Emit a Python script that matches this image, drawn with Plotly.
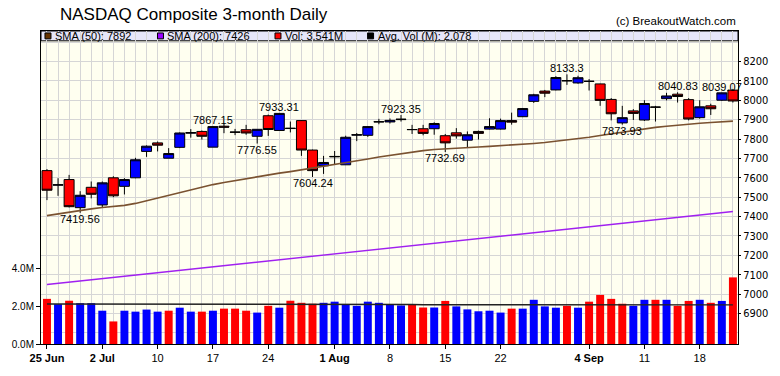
import plotly.graph_objects as go

# ---------------- data ----------------
dates = ["2018-06-25","2018-06-26","2018-06-27","2018-06-28","2018-06-29",
         "2018-07-02","2018-07-03","2018-07-05","2018-07-06","2018-07-09",
         "2018-07-10","2018-07-11","2018-07-12","2018-07-13","2018-07-16",
         "2018-07-17","2018-07-18","2018-07-19","2018-07-20","2018-07-23",
         "2018-07-24","2018-07-25","2018-07-26","2018-07-27","2018-07-30",
         "2018-07-31","2018-08-01","2018-08-02","2018-08-03","2018-08-06",
         "2018-08-07","2018-08-08","2018-08-09","2018-08-10","2018-08-13",
         "2018-08-14","2018-08-15","2018-08-16","2018-08-17","2018-08-20",
         "2018-08-21","2018-08-22","2018-08-23","2018-08-24","2018-08-27",
         "2018-08-28","2018-08-29","2018-08-30","2018-08-31","2018-09-04",
         "2018-09-05","2018-09-06","2018-09-07","2018-09-10","2018-09-11",
         "2018-09-12","2018-09-13","2018-09-14","2018-09-17","2018-09-18",
         "2018-09-19","2018-09-20","2018-09-21"]

opens  = [7637,7562,7591,7446,7551,7460,7600,7556,7600,7736,
          7780,7701,7757,7830,7839,7758,7866,7836,7848,7814,
          7920,7844,7856,7895,7743,7662,7708,7667,7820,7819,
          7888,7888,7900,7848,7853,7853,7817,7832,7794,7839,
          7851,7851,7895,7915,7994,8047,8053,8101,8089,8098,
          8084,8004,7883,7945,7898,7965,8008,8031,8003,7910,
          7971,8000,8052]
highs  = [7645,7598,7615,7531,7581,7581,7608,7598,7703,7767,
          7787,7753,7834,7851,7844,7867.15,7880,7852,7873,7851,
          7926,7933.31,7890,7897,7745,7713,7738,7817,7831,7866,
          7904,7906,7923.35,7873,7873,7886,7826,7856,7839,7843,
          7907,7905,7936,7960,8033,8053,8124,8133.3,8126,8109,
          8085,8011,7971,7954,8000,7971,8038,8040.83,8011,8000,
          7982,8039.07,8058]
lows   = [7485,7507,7447,7419.56,7494,7446,7500,7514,7598,7708,
          7736,7701,7753,7807,7797,7758,7830,7820,7822,7776.55,
          7816,7844,7834,7713,7604.24,7620,7671,7667,7789,7811,
          7876,7880,7890,7826,7819,7822,7732.69,7802,7758,7797,
          7849,7849,7874,7913,7986,8016,8051,8079,8085,8050,
          7971,7896,7873.93,7898,7893,7890,7999,7988,7896,7905,
          7924,7996,7988]
closes = [7536,7564,7451,7510,7515,7574,7507,7591,7693,7763,
          7768,7725,7831,7833,7814,7864,7861,7835,7831,7850,
          7849,7932,7854,7743,7637,7679,7710,7809,7822,7864,
          7889,7896,7902,7849,7829,7880,7780,7816,7822,7829,
          7864,7895,7887,7957,8028,8036,8117,8100,8116,8097,
          7999,7930,7910,7932,7983,7964,8022,8019,7903,7966,
          7956,8038,7996]
volume_m = [2.40,2.12,2.30,2.17,2.17,1.77,1.20,1.77,1.72,1.83,
            1.72,1.77,1.93,1.72,1.72,1.77,1.88,1.88,1.77,1.67,
            2.03,1.93,2.30,2.19,2.14,2.19,2.25,2.09,2.03,2.25,
            2.19,2.09,2.05,2.09,1.94,1.94,2.29,2.00,1.84,1.74,
            1.77,1.67,1.88,1.88,2.35,2.00,1.93,2.03,1.93,2.25,
            2.61,2.40,2.14,2.03,2.35,2.35,2.35,2.03,2.29,2.35,
            2.19,2.29,3.541]
sma50  = [7405,7414,7424,7433,7440,7447,7452,7458,7468,7482,
          7497,7512,7526,7540,7553,7565,7576,7586,7596,7606,
          7615,7624,7632,7641,7649,7658,7667,7677,7687,7697,
          7707,7716,7725,7733,7740,7746,7750,7753,7756,7759,
          7762,7765,7768,7772,7777,7782,7788,7794,7801,7809,
          7818,7827,7836,7845,7853,7860,7866,7872,7877,7881,
          7885,7889,7892]
sma200 = [7050,7056,7062,7068,7074,7080,7086,7092,7098,7104,
          7110,7116,7122,7128,7134,7141,7147,7153,7159,7165,
          7171,7177,7183,7189,7195,7201,7207,7213,7219,7225,
          7232,7238,7244,7250,7256,7262,7268,7274,7280,7286,
          7292,7298,7304,7310,7317,7323,7329,7335,7341,7347,
          7353,7359,7365,7371,7377,7383,7389,7395,7402,7408,
          7414,7420,7426]
avg_vol_m = [2.13,2.13,2.13,2.13,2.13,2.12,2.12,2.12,2.12,2.12,
             2.12,2.12,2.12,2.12,2.11,2.11,2.11,2.11,2.11,2.11,
             2.11,2.11,2.11,2.10,2.10,2.10,2.10,2.10,2.10,2.10,
             2.10,2.10,2.10,2.10,2.09,2.09,2.09,2.09,2.09,2.09,
             2.09,2.09,2.09,2.09,2.09,2.08,2.08,2.08,2.08,2.08,
             2.08,2.08,2.08,2.08,2.08,2.08,2.08,2.08,2.08,2.08,
             2.078,2.078,2.078]

tick_idx  = [0, 5, 10, 15, 20, 26, 31, 36, 41, 49, 54, 59]
tick_text = ["<b>25 Jun</b>", "<b>2 Jul</b>", "10", "17", "24", "<b>1 Aug</b>",
             "8", "15", "22", "<b>4 Sep</b>", "11", "18"]
price_ticks = [6900, 7000, 7100, 7200, 7300, 7400, 7500, 7600,
               7700, 7800, 7900, 8000, 8100, 8200]
vol_ticks = [0, 2.0, 4.0]

high_marks = [15, 21, 32, 47, 57, 61]
low_marks = [3, 19, 24, 36, 52]

title_text = "NASDAQ Composite 3-month Daily"
credit_text = "(c) BreakoutWatch.com"

# ---------------- figure ----------------
x = list(range(len(dates)))
vol = [v * 1e6 for v in volume_m]
avg_vol = [v * 1e6 for v in avg_vol_m]
vol_colors = []
for i in x:
    if i == 0:
        up = closes[0] > opens[0]
    else:
        up = closes[i] > closes[i - 1]
    vol_colors.append("#0000FF" if up else "#FF0000")

FONT = "Arial, Liberation Sans, sans-serif"
NARROW = "Liberation Sans Narrow, Arial Narrow, DejaVu Sans Condensed, sans-serif"
GRID = "#D6D6D6"

L, R, T, B = 40, 40, 31, 26
W, H = 780, 376
PW, PH = W - L - R, H - T - B


def px(xp):
    return (xp - L) / PW


def py(yp):
    return (H - B - yp) / PH


fig = go.Figure()
fig.add_trace(go.Bar(x=x, y=vol, marker=dict(color=vol_colors, line=dict(width=0)),
                     width=0.72, yaxis="y", hoverinfo="skip"))
fig.add_trace(go.Scatter(x=x, y=avg_vol, mode="lines", yaxis="y",
                         line=dict(color="#222222", width=1.4), hoverinfo="skip"))
fig.add_trace(go.Scatter(x=x, y=sma200, mode="lines", yaxis="y2",
                         line=dict(color="#A020F0", width=1.4), hoverinfo="skip"))
fig.add_trace(go.Scatter(x=x, y=sma50, mode="lines", yaxis="y2",
                         line=dict(color="#7A5230", width=1.6), hoverinfo="skip"))
fig.add_trace(go.Candlestick(
    x=x, open=opens, high=highs, low=lows, close=closes, yaxis="y2",
    increasing=dict(fillcolor="#0000FF", line=dict(color="#000000", width=1)),
    decreasing=dict(fillcolor="#FF0000", line=dict(color="#000000", width=1)),
    whiskerwidth=0, hoverinfo="skip"))


def fmt(v):
    s = "%.2f" % v
    return s.rstrip("0").rstrip(".")


annotations = []
for i in high_marks:
    annotations.append(dict(x=i, y=highs[i], xref="x", yref="y2", text=fmt(highs[i]),
                            showarrow=False, yanchor="bottom", yshift=-2,
                            font=dict(family=FONT, size=11, color="black")))
for i in low_marks:
    annotations.append(dict(x=i, y=lows[i], xref="x", yref="y2", text=fmt(lows[i]),
                            showarrow=False, yanchor="top", yshift=2,
                            font=dict(family=FONT, size=11, color="black")))

annotations.append(dict(x=px(57), y=py(14), xref="paper", yref="paper", text=title_text,
                        showarrow=False, xanchor="left", yanchor="middle",
                        font=dict(family=FONT, size=17, color="black")))
annotations.append(dict(x=1.0, y=py(21), xref="paper", yref="paper", text=credit_text,
                        showarrow=False, xanchor="right", yanchor="middle",
                        font=dict(family=FONT, size=11.5, color="black")))

legend_items = [
    ("SMA (50): %d" % sma50[-1], "#663300", 44),
    ("SMA (200): %d" % sma200[-1], "#9900FF", 157),
    ("Vol: %.3fM" % volume_m[-1], "#FF0000", 275),
    ("Avg. Vol (M): %.3f" % avg_vol_m[-1], "#000000", 368),
]

shapes = [dict(type="rect", xref="paper", yref="paper", x0=0, x1=1,
               y0=py(41), y1=1, fillcolor="#E6E6FA", line=dict(color="black", width=1),
               layer="below")]
for label, col, xp in legend_items:
    shapes.append(dict(type="rect", xref="paper", yref="paper",
                       x0=px(xp), x1=px(xp + 6), y0=py(39), y1=py(33),
                       fillcolor=col, line=dict(color="black", width=1), layer="above"))
    annotations.append(dict(x=px(xp + 8), y=py(36), xref="paper", yref="paper", text=label,
                            showarrow=False, xanchor="left", yanchor="middle",
                            font=dict(family=FONT, size=11, color="black")))

fig.update_layout(
    width=W, height=H,
    margin=dict(l=L, r=R, t=T, b=B, pad=0),
    paper_bgcolor="white", plot_bgcolor="#FFFFF0",
    showlegend=False, boxgap=0.1, boxgroupgap=0,
    annotations=annotations, shapes=shapes,
    xaxis=dict(range=[-0.54, 62.46], tickmode="array", tickvals=tick_idx, ticktext=tick_text,
               tickfont=dict(family=FONT, size=11, color="black"),
               ticks="outside", ticklen=4, tickcolor="black",
               showgrid=True, gridcolor=GRID, gridwidth=1,
               minor=dict(tickmode="linear", tick0=0, dtick=1, showgrid=True,
                          gridcolor=GRID, gridwidth=1, ticks=""),
               showline=True, linecolor="black", linewidth=1, mirror=True,
               rangeslider=dict(visible=False), zeroline=False, fixedrange=True),
    yaxis=dict(range=[0, 16.64e6], tickmode="array",
               tickvals=[v * 1e6 for v in vol_ticks],
               ticktext=["%.1fM" % v for v in vol_ticks],
               tickfont=dict(family=FONT, size=10, color="black"),
               ticks="outside", ticklen=4, tickcolor="black",
               showgrid=False, zeroline=False, side="left",
               showline=True, linecolor="black", linewidth=1),
    yaxis2=dict(range=[6743.2, 8356.8], overlaying="y", side="right",
                tickmode="array", tickvals=price_ticks,
                tickfont=dict(family=NARROW, size=11, color="black"),
                ticks="outside", ticklen=2, tickcolor="black",
                showgrid=True, gridcolor=GRID, gridwidth=1,
                minor=dict(tickmode="linear", tick0=6700, dtick=100, showgrid=True,
                           gridcolor=GRID, gridwidth=1, ticks=""),
                zeroline=False, showline=True, linecolor="black", linewidth=1),
)

fig.write_html("out.html")
